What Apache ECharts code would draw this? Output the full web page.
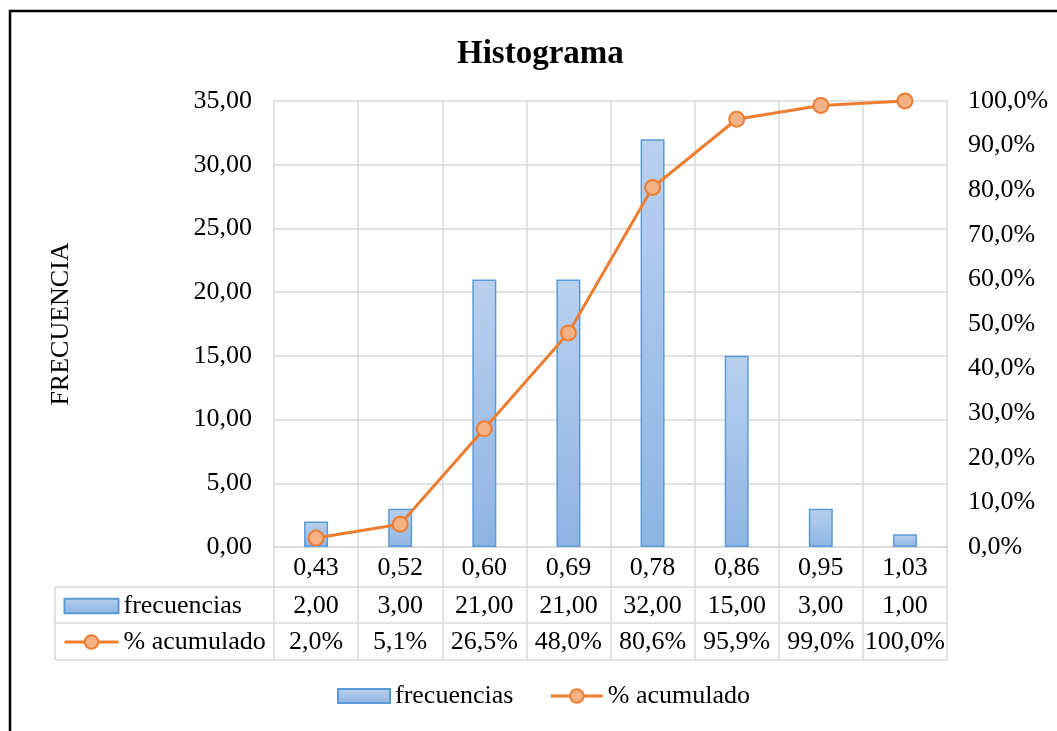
<!DOCTYPE html>
<html>
<head>
<meta charset="utf-8">
<script src="https://cdn.jsdelivr.net/npm/echarts@6/dist/echarts.min.js"></script>
<style>html,body{margin:0;padding:0;background:#fff}#c{width:1057px;height:731px}</style>
</head>
<body>
<div id="c"></div>
<script>
var categories = ['0,43', '0,52', '0,60', '0,69', '0,78', '0,86', '0,95', '1,03'];
var frecuencias = [2, 3, 21, 21, 32, 15, 3, 1];
var acumulado = [2.0, 5.1, 26.5, 48.0, 80.6, 95.9, 99.0, 100.0];
var leftTicks = [0, 5, 10, 15, 20, 25, 30, 35];
var rightTicks = [0, 10, 20, 30, 40, 50, 60, 70, 80, 90, 100];

function fmt2(v) { return v.toFixed(2).replace('.', ','); }
function fmtPct(v) { return v.toFixed(1).replace('.', ',') + '%'; }

var FONT = 'Liberation Serif';
var FS = 26;
var GRID = '#d9d9d9';
var chart = echarts.init(document.getElementById('c'));

var barColor = new echarts.graphic.LinearGradient(0, 0, 0, 1, [
  { offset: 0, color: '#b9d1ef' },
  { offset: 1, color: '#8fb4e3' }
]);

var labelStyle = { fontFamily: FONT, fontSize: FS, color: '#000' };
function gline(x1, y1, x2, y2) {
  return { type: 'line', silent: true, shape: { x1: x1, y1: y1, x2: x2, y2: y2 }, style: { stroke: GRID, lineWidth: 1.5 } };
}
var rectIcon = 'path://M0,0H52V14H0Z';

chart.setOption({
  animation: false,
  textStyle: { fontFamily: FONT },
  title: {
    text: 'Histograma',
    left: 452, top: 33,
    textStyle: { fontFamily: FONT, fontSize: 33, fontWeight: 'bold', color: '#000' }
  },
  graphic: [
    { type: 'rect', silent: true, shape: { x: 10, y: 11, width: 1200, height: 900 }, style: { fill: 'none', stroke: '#000', lineWidth: 2.5 } },
    gline(55, 587, 947, 587),
    gline(55, 623, 947, 623),
    gline(55, 660, 947, 660),
    gline(55, 587, 55, 660)
  ],
  legend: [
    {
      bottom: 17, left: 332,
      itemWidth: 52, itemHeight: 17, itemGap: 36,
      textStyle: labelStyle,
      lineStyle: { width: 3 },
      data: [{ name: 'frecuencias', icon: rectIcon }, { name: '% acumulado' }]
    },
    {
      orient: 'vertical', left: 58, top: 588,
      itemWidth: 54, itemHeight: 17, itemGap: 10,
      textStyle: labelStyle,
      lineStyle: { width: 3 },
      selectedMode: false,
      data: [{ name: 'frecuencias', icon: rectIcon }, { name: '% acumulado' }]
    }
  ],
  grid: { left: 274, right: 110, top: 101, bottom: 184 },
  xAxis: [
    {
      type: 'category', data: categories, position: 'bottom',
      axisLine: { show: true, onZero: false, lineStyle: { color: GRID, width: 1.5 } },
      axisTick: { show: true, length: 113, inside: false, lineStyle: { color: GRID, width: 1.5 } },
      axisLabel: Object.assign({ margin: 8, interval: 0 }, labelStyle),
      splitLine: { show: true, lineStyle: { color: GRID, width: 1.5 } }
    },
    {
      type: 'category', data: frecuencias.map(fmt2), position: 'bottom', offset: 40,
      axisLine: { show: false, onZero: false },
      axisTick: { show: false },
      axisLabel: Object.assign({ margin: 6, interval: 0 }, labelStyle)
    },
    {
      type: 'category', data: acumulado.map(fmtPct), position: 'bottom', offset: 76,
      axisLine: { show: false, onZero: false },
      axisTick: { show: false },
      axisLabel: Object.assign({ margin: 6, interval: 0 }, labelStyle)
    }
  ],
  yAxis: [
    {
      type: 'value', min: leftTicks[0], max: leftTicks[leftTicks.length - 1], interval: 5,
      name: 'FRECUENCIA', nameLocation: 'middle', nameGap: 200, nameRotate: 90,
      nameTextStyle: { fontFamily: FONT, fontSize: FS, color: '#000' },
      axisLine: { show: false }, axisTick: { show: false },
      axisLabel: Object.assign({ margin: 22, formatter: function (v) { return fmt2(v); } }, labelStyle),
      splitLine: { show: true, lineStyle: { color: GRID, width: 1.5 } }
    },
    {
      type: 'value', min: rightTicks[0], max: rightTicks[rightTicks.length - 1], interval: 10,
      axisLine: { show: false }, axisTick: { show: false },
      axisLabel: Object.assign({ margin: 21, formatter: function (v) { return fmtPct(v); } }, labelStyle),
      splitLine: { show: false }
    }
  ],
  series: [
    {
      name: 'frecuencias', type: 'bar', data: frecuencias,
      xAxisIndex: 0, yAxisIndex: 0, barWidth: '28.5%',
      itemStyle: { color: barColor, borderColor: '#5b9bd5', borderWidth: 1.5 }
    },
    {
      name: '% acumulado', type: 'line', data: acumulado,
      xAxisIndex: 0, yAxisIndex: 1,
      symbol: 'circle', symbolSize: 15,
      lineStyle: { color: '#ed7d31', width: 3 },
      itemStyle: { color: '#f4b183', borderColor: '#ed7d31', borderWidth: 2 }
    }
  ]
});
</script>
</body>
</html>
